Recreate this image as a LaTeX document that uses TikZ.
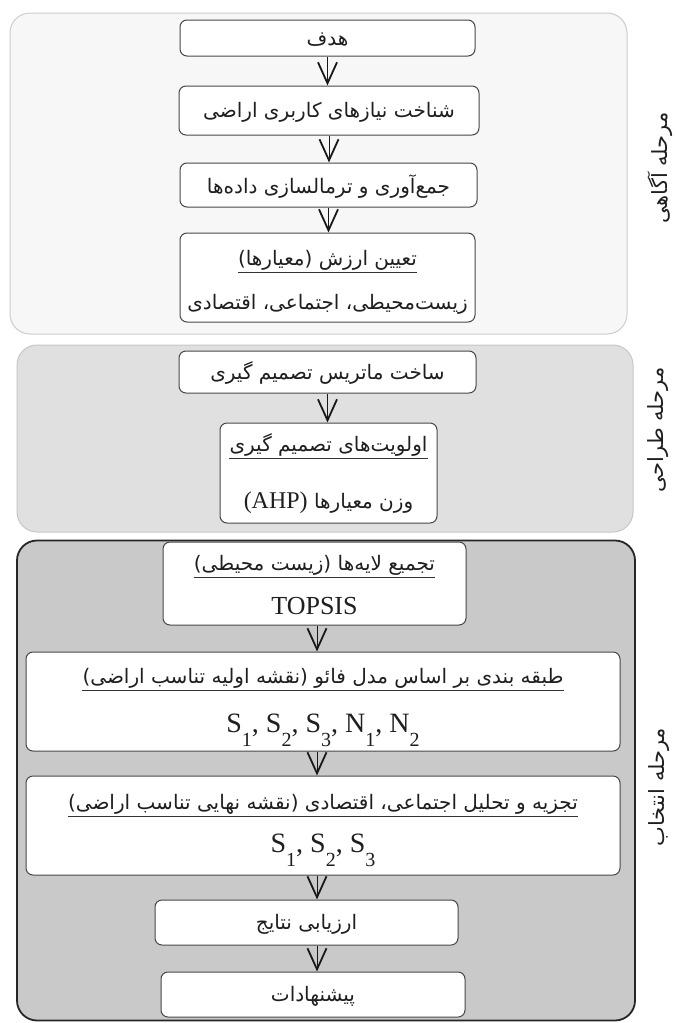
\documentclass[tikz,border=0pt]{standalone}
\usepackage{fontspec}
\setmainfont{Liberation Serif}
\newfontfamily\fafont[Script=Arabic]{DejaVu Sans}
\TeXXeTstate=1
\usetikzlibrary{arrows.meta,calc}
\newcommand{\RL}[1]{\beginR #1\endR}
\newcommand{\mysub}[2]{#1\raisebox{-14pt}{\fontsize{20}{20}\selectfont #2}}
\begin{document}
\begin{tikzpicture}[x=1pt,y=-1pt,
  grpA/.style={rounded corners=20pt, draw=black!20, fill=black!3, line width=1pt, inner sep=0pt},
  grpB/.style={rounded corners=20pt, draw=black!22, fill=black!12, line width=1pt, inner sep=0pt},
  grpC/.style={rounded corners=20pt, draw=black!85, fill=black!21, line width=1.8pt, inner sep=0pt},
  box/.style={draw=black!72, fill=white, rounded corners=7pt, line width=1pt, inner sep=0pt},
  ftxt/.style={font=\fafont\fontsize{20}{24}\selectfont, inner sep=0pt, text=black!88},
  lbl/.style={font=\fafont\fontsize{21}{24}\selectfont, inner sep=0pt, text=black!88, rotate=90},
  ltxt/.style={font=\fontsize{26}{26}\selectfont, inner sep=0pt, text=black!88, anchor=base},
  uline/.style={draw=black!80, line width=1pt},
  varrow/.style={draw=black!90, line width=1pt, -{Straight Barb[length=21pt,width=19pt,line width=1.8pt]}}
]
\useasboundingbox (0,0) rectangle (675,1023);
\fill[white] (0,0) rectangle (675,1023);

% stage frames
\node[grpA, minimum width=617pt, minimum height=321pt] (G1) at (318.5,173.5) {};
\node[grpB, minimum width=616pt, minimum height=187pt] (G2) at (325,438.5) {};
\node[grpC, minimum width=618pt, minimum height=480pt] (G3) at (326,780.5) {};

% stage labels
\node[lbl] (L1) at (660,168) {\RL{مرحله آگاهی}};
\node[lbl] (L2) at (658,430) {\RL{مرحله طراحی}};
\node[lbl] (L3) at (659,787) {\RL{مرحله انتخاب}};

% boxes
\node[box, minimum width=295pt, minimum height=36pt] (B1) at (327.5,38) {};
\node[box, minimum width=300pt, minimum height=49pt] (B2) at (329,110.5) {};
\node[box, minimum width=297pt, minimum height=44pt] (B3) at (328.5,185) {};
\node[box, minimum width=295pt, minimum height=89pt] (B4) at (327.5,277.5) {};
\node[box, minimum width=297pt, minimum height=42pt] (B5) at (327.5,372) {};
\node[box, minimum width=217pt, minimum height=100pt] (B6) at (328.5,473) {};
\node[box, minimum width=303pt, minimum height=83pt] (B7) at (314.5,583.5) {};
\node[box, minimum width=594pt, minimum height=99pt] (B8) at (323,701.5) {};
\node[box, minimum width=594pt, minimum height=99pt] (B9) at (323,825.5) {};
\node[box, minimum width=303pt, minimum height=45pt] (B10) at (306.5,922.5) {};
\node[box, minimum width=304pt, minimum height=45pt] (B11) at (313,994.5) {};

% texts
\node[ftxt] (T1) at (327.5,40) {\RL{هدف}};
\node[ftxt] (T2) at (329,112) {\RL{شناخت نیازهای کاربری اراضی}};
\node[ftxt] (T3) at (328.5,187) {\RL{جمع‌آوری و ترمالسازی داده‌ها}};
\node[ftxt] (T4a) at (327.5,260) {\RL{تعیین ارزش (معیارها)}};
\node[ftxt] (T4b) at (327.5,304) {\RL{زیست‌محیطی، اجتماعی، اقتصادی}};
\node[ftxt] (T5) at (327.5,373) {\RL{ساخت ماتریس تصمیم گیری}};
\node[ftxt] (T6a) at (328.5,445) {\RL{اولویت‌های تصمیم گیری}};
\node[ftxt, anchor=base] (T6b) at (328.5,508) {\RL{وزن معیارها \beginL{\rmfamily\fontsize{24}{24}\selectfont (AHP)}\endL}};
\node[ftxt] (T7a) at (314.5,565) {\RL{تجمیع لایه‌ها (زیست محیطی)}};
\node[ltxt] (T7b) at (314.5,614) {TOPSIS};
\node[ftxt] (T8a) at (323,678) {\RL{طبقه بندی بر اساس مدل فائو (نقشه اولیه تناسب اراضی)}};
\node[ltxt] (T8b) at (323,732) {\fontsize{28}{28}\selectfont\mysub{S}{1}, \mysub{S}{2}, \mysub{S}{3}, \mysub{N}{1}, \mysub{N}{2}};
\node[ftxt] (T9a) at (323,804) {\RL{تجزیه و تحلیل اجتماعی، اقتصادی (نقشه نهایی تناسب اراضی)}};
\node[ltxt] (T9b) at (323,852) {\fontsize{28}{28}\selectfont\mysub{S}{1}, \mysub{S}{2}, \mysub{S}{3}};
\node[ftxt] (T10) at (306.5,924) {\RL{ارزیابی نتایج}};
\node[ftxt] (T11) at (313,996) {\RL{پیشنهادات}};

% underlines
\foreach \t in {T4a,T6a,T7a,T8a,T9a}
  \draw[uline] ($(\t.south west)+(0,2)$) -- ($(\t.south east)+(0,2)$);

% arrows
\coordinate (AX) at (317,0);
\draw[varrow] (B1.south) -- (B1.south |- B2.north);
\draw[varrow] (B2.south) -- (B2.south |- B3.north);
\draw[varrow] (B3.south) -- (B3.south |- B4.north);
\draw[varrow] (B5.south) -- (B5.south |- B6.north);
\draw[varrow] (B7.south -| AX) -- (B8.north -| AX);
\draw[varrow] (B8.south -| AX) -- (B9.north -| AX);
\draw[varrow] (B9.south -| AX) -- (B10.north -| AX);
\draw[varrow] (B10.south -| AX) -- (B11.north -| AX);
\end{tikzpicture}
\end{document}
